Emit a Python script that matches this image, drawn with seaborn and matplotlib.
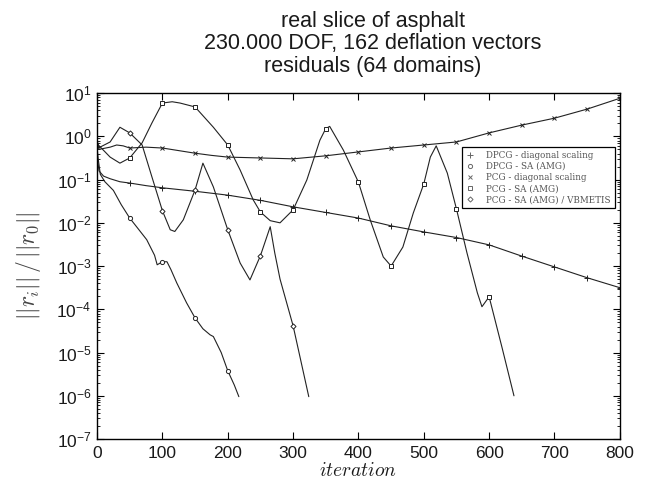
import numpy as np
import pandas as pd
import matplotlib
matplotlib.use('Agg')
import matplotlib.pyplot as plt
import matplotlib.ticker as mticker
import seaborn as sns

# --- DATA (log10 of relative residual) ---
dpcg_diag_it = [0, 3, 10, 20, 35, 50, 75, 100, 150, 200, 250, 300, 350, 400, 450,
                500, 550, 600, 650, 700, 750, 800]
dpcg_diag_log = [-0.45, -0.80, -0.92, -0.98, -1.05, -1.08, -1.14, -1.19, -1.27, -1.36,
                 -1.48, -1.63, -1.76, -1.89, -2.07, -2.21, -2.34, -2.51, -2.77, -3.02,
                 -3.27, -3.50]

dpcg_sa_it = [0, 2, 5, 12, 25, 37, 50, 62, 76, 88, 92, 100, 107, 113, 122, 137, 150,
              162, 173, 178, 190, 200, 210, 217]
dpcg_sa_log = [-0.25, -0.55, -0.88, -1.05, -1.25, -1.58, -1.89, -2.12, -2.39, -2.75,
               -2.97, -2.90, -2.90, -3.08, -3.39, -3.85, -4.20, -4.45, -4.59, -4.63,
               -5.00, -5.42, -5.75, -6.02]

pcg_diag_it = [0, 3, 10, 20, 30, 40, 50, 75, 100, 125, 150, 175, 200, 250, 300, 350,
               400, 450, 500, 550, 600, 650, 700, 750, 800]
pcg_diag_log = [-0.10, -0.30, -0.28, -0.25, -0.20, -0.22, -0.27, -0.25, -0.27, -0.33,
                -0.39, -0.44, -0.48, -0.50, -0.52, -0.45, -0.36, -0.27, -0.20, -0.13,
                0.08, 0.26, 0.42, 0.63, 0.88]

pcg_sa_it = [0, 2, 20, 35, 50, 69, 84, 100, 115, 127, 150, 178, 200, 219, 239, 250,
             265, 280, 300, 321, 341, 350, 356, 377, 400, 418, 438, 450, 468, 484, 500,
             510, 519, 536, 550, 566, 582, 589, 600, 620, 638]
pcg_sa_log = [-0.10, -0.20, -0.48, -0.62, -0.50, -0.15, 0.31, 0.77, 0.80, 0.77, 0.68,
              0.21, -0.20, -0.78, -1.47, -1.75, -1.95, -2.00, -1.70, -1.01, -0.09, 0.18,
              0.23, -0.32, -1.06, -1.93, -2.79, -3.00, -2.56, -1.77, -1.10, -0.48,
              -0.22, -0.85, -1.68, -2.69, -3.62, -3.94, -3.71, -4.90, -6.00]

pcg_vb_it = [0, 2, 20, 35, 50, 69, 84, 100, 112, 119, 132, 150, 162, 178, 200, 219,
             234, 250, 265, 272, 280, 300, 324]
pcg_vb_log = [-0.10, -0.27, -0.13, 0.21, 0.08, -0.20, -0.94, -1.72, -2.16, -2.20,
              -1.93, -1.24, -0.62, -1.17, -2.16, -2.93, -3.32, -2.76, -2.09, -2.70,
              -3.30, -4.38, -6.02]

labels = ['DPCG - diagonal scaling', 'DPCG - SA (AMG)', 'PCG - diagonal scaling',
          'PCG - SA (AMG)', 'PCG - SA (AMG) / VBMETIS']
series = [
    (dpcg_diag_it, dpcg_diag_log, '+', 5),
    (dpcg_sa_it, dpcg_sa_log, 'o', 3),
    (pcg_diag_it, pcg_diag_log, 'x', 3.5),
    (pcg_sa_it, pcg_sa_log, 's', 3),
    (pcg_vb_it, pcg_vb_log, 'D', 2.6),
]

sns.set_style('ticks')
plt.rcParams['font.family'] = ['Liberation Sans', 'DejaVu Sans']
plt.rcParams['mathtext.fontset'] = 'cm'

fig, ax = plt.subplots(figsize=(6.47, 4.90), dpi=100)
fig.subplots_adjust(left=0.150, right=0.958, top=0.810, bottom=0.104)

line_col = '#222222'
for (it, lg, mk, ms), lab in zip(series, labels):
    df = pd.DataFrame({'iteration': it, 'res': 10.0 ** np.array(lg)})
    marks = [i for i, v in enumerate(it) if v > 0 and v % 50 == 0]
    sns.lineplot(data=df, x='iteration', y='res', ax=ax, color=line_col, lw=0.8,
                 marker=mk, markevery=marks, ms=ms, mfc='white', mec=line_col,
                 mew=0.7, errorbar=None, label=lab)

ax.set_yscale('log')
ax.set_xlim(0, 800)
ax.set_ylim(1e-7, 1e1)
ax.set_xticks(range(0, 801, 100))
ax.yaxis.set_major_locator(mticker.FixedLocator([10.0 ** k for k in range(-7, 2)]))
ax.yaxis.set_minor_locator(mticker.FixedLocator(
    [m * 10.0 ** k for k in range(-7, 1) for m in range(2, 10)]))
ax.yaxis.set_minor_formatter(mticker.NullFormatter())
ax.tick_params(axis='both', which='both', direction='in', top=True, right=True,
               labelsize=12.5, colors='black', labelcolor='#1a1a1a')
ax.tick_params(axis='y', which='major', length=5, pad=4)
ax.tick_params(axis='y', which='minor', length=2.5)
ax.tick_params(axis='x', which='major', length=5, pad=5)
for s in ax.spines.values():
    s.set_linewidth(1.0)
    s.set_color('black')

ax.set_xlabel(r'$iteration$', fontsize=14, labelpad=1, color='#1a1a1a')
ax.set_ylabel(r'$||r_i||\,/\,||r_0||$', fontsize=17, labelpad=10, color='#444444')
fig.text(373 / 647, 1 - 44 / 490,
         'real slice of asphalt\n230.000 DOF, 162 deflation vectors\nresiduals (64 domains)',
         ha='center', va='center', fontsize=15.5, linespacing=1.08, color='#1a1a1a')

leg = ax.legend(loc='upper right', bbox_to_anchor=(0.99, 0.845), borderaxespad=0,
                fancybox=False, framealpha=1, edgecolor='black',
                prop={'family': 'DejaVu Serif', 'size': 6.3}, handlelength=1.0,
                handletextpad=1.3, labelspacing=0.25, borderpad=0.45)
leg.get_frame().set_linewidth(0.9)
for h in leg.legend_handles:
    h.set_linestyle('none')
    h.set_color('#666666')
    h.set_markeredgecolor('#666666')
for t in leg.get_texts():
    t.set_color('#555555')

fig.savefig('out.png', dpi=100)
